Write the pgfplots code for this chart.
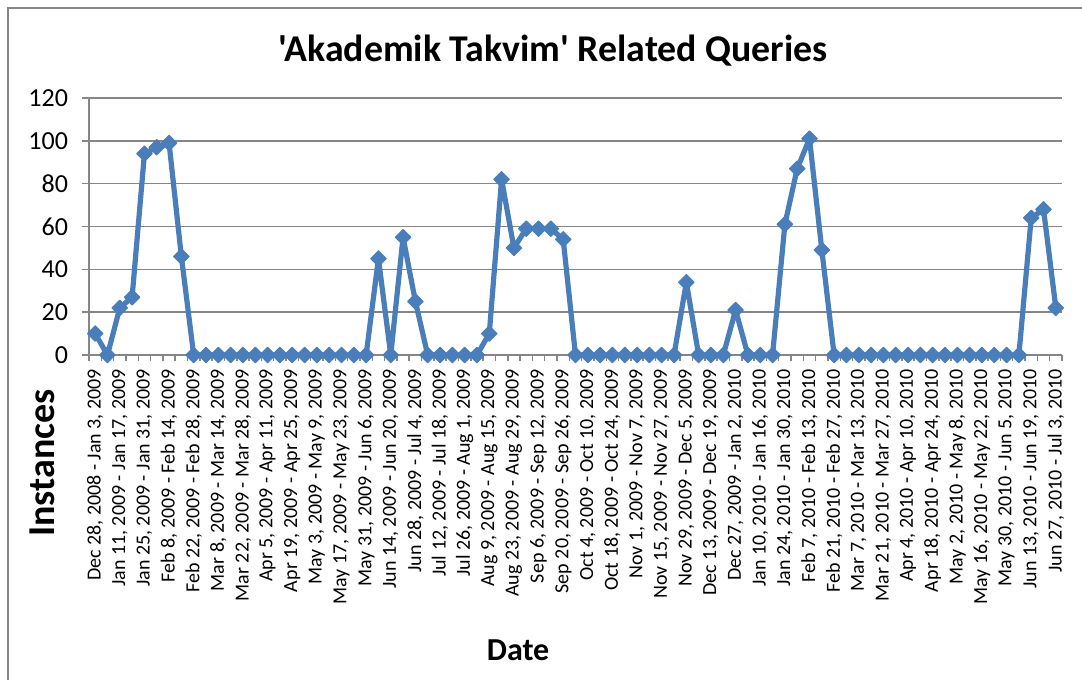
\documentclass[border=0pt]{standalone}
\usepackage{fontspec}
\setmainfont{Carlito}[Ligatures=TeXOff]
\usepackage{pgfplots}
\usepackage{pgfplotstable}
\pgfplotsset{compat=1.18}
\definecolor{linecol}{HTML}{4A7EBB}
\definecolor{gridcol}{HTML}{868686}
\pgfplotstableread{
x y
0 10
1 0
2 22
3 27
4 94
5 97
6 99
7 46
8 0
9 0
10 0
11 0
12 0
13 0
14 0
15 0
16 0
17 0
18 0
19 0
20 0
21 0
22 0
23 45
24 0
25 55
26 25
27 0
28 0
29 0
30 0
31 0
32 10
33 82
34 50
35 59
36 59
37 59
38 54
39 0
40 0
41 0
42 0
43 0
44 0
45 0
46 0
47 0
48 34
49 0
50 0
51 0
52 21
53 0
54 0
55 0
56 61
57 87
58 101
59 49
60 0
61 0
62 0
63 0
64 0
65 0
66 0
67 0
68 0
69 0
70 0
71 0
72 0
73 0
74 0
75 0
76 64
77 68
78 22
}\datatable
\begin{document}
\begin{tikzpicture}
\useasboundingbox (0,0) rectangle (541pt,340pt);
\draw[gridcol, line width=0.8pt] (4pt,-2pt) -- (4pt,336pt) -- (543pt,336pt);
\begin{axis}[
  at={(44.5pt,162.5pt)}, anchor=south west,
  scale only axis, width=486.5pt, height=128.5pt,
  xmin=-0.5, xmax=78.5, ymin=0, ymax=120,
  axis x line*=bottom, axis y line*=left,
  axis line style={gridcol, line width=0.75pt, -},
  ymajorgrids, grid style={gridcol, line width=0.75pt},
  ytick={0,20,...,120},
  xtick={0,2,...,78},
  minor xtick={-0.5,0.5,...,78.5},
  tick align=outside,
  major tick length=3.5pt, minor tick length=3pt,
  tick style={gridcol, line width=0.75pt},
  major x tick style={draw=none},
  xticklabels={
    {Dec 28, 2008 - Jan 3, 2009},
    {Jan 11, 2009 - Jan 17, 2009},
    {Jan 25, 2009 - Jan 31, 2009},
    {Feb 8, 2009 - Feb 14, 2009},
    {Feb 22, 2009 - Feb 28, 2009},
    {Mar 8, 2009 - Mar 14, 2009},
    {Mar 22, 2009 - Mar 28, 2009},
    {Apr 5, 2009 - Apr 11, 2009},
    {Apr 19, 2009 - Apr 25, 2009},
    {May 3, 2009 - May 9, 2009},
    {May 17, 2009 - May 23, 2009},
    {May 31, 2009 - Jun 6, 2009},
    {Jun 14, 2009 - Jun 20, 2009},
    {Jun 28, 2009 - Jul 4, 2009},
    {Jul 12, 2009 - Jul 18, 2009},
    {Jul 26, 2009 - Aug 1, 2009},
    {Aug 9, 2009 - Aug 15, 2009},
    {Aug 23, 2009 - Aug 29, 2009},
    {Sep 6, 2009 - Sep 12, 2009},
    {Sep 20, 2009 - Sep 26, 2009},
    {Oct 4, 2009 - Oct 10, 2009},
    {Oct 18, 2009 - Oct 24, 2009},
    {Nov 1, 2009 - Nov 7, 2009},
    {Nov 15, 2009 - Nov 27, 2009},
    {Nov 29, 2009 - Dec 5, 2009},
    {Dec 13, 2009 - Dec 19, 2009},
    {Dec 27, 2009 - Jan 2, 2010},
    {Jan 10, 2010 - Jan 16, 2010},
    {Jan 24, 2010 - Jan 30, 2010},
    {Feb 7, 2010 - Feb 13, 2010},
    {Feb 21, 2010 - Feb 27, 2010},
    {Mar 7, 2010 - Mar 13, 2010},
    {Mar 21, 2010 - Mar 27, 2010},
    {Apr 4, 2010 - Apr 10, 2010},
    {Apr 18, 2010 - Apr 24, 2010},
    {May 2, 2010 - May 8, 2010},
    {May 16, 2010 - May 22, 2010},
    {May 30, 2010 - Jun 5, 2010},
    {Jun 13, 2010 - Jun 19, 2010},
    {Jun 27, 2010 - Jul 3, 2010}},
  xticklabel style={rotate=90, anchor=east, font=\fontsize{10}{11}\selectfont},
  yticklabel style={font=\fontsize{13}{15}\selectfont, xshift=-3.5pt},
  /pgf/number format/assume math mode=true,
  clip=false,
  title={'Akademik Takvim' Related Queries},
  title style={at={(axis description cs:0.477,1)}, anchor=base, yshift=12pt, font=\bfseries\fontsize{18.9}{21}\selectfont},
  xlabel={Date},
  xlabel style={at={(axis description cs:0.441,-1.148)}, anchor=center, font=\bfseries\fontsize{16}{18}\selectfont},
  ylabel={Instances},
  ylabel style={at={(axis description cs:-0.0483,-0.42)}, anchor=center, font=\bfseries\fontsize{19}{21}\selectfont},
]
\addplot[linecol, line width=2.6pt, line join=round, mark=square*, mark size=2.75pt, mark options={rotate=45, fill=linecol, draw=linecol, line width=0.5pt}] table[x=x, y=y] {\datatable};
\end{axis}
\end{tikzpicture}
\end{document}
